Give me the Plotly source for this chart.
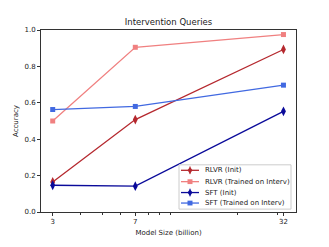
import plotly.graph_objects as go

sizes = [3, 7, 32]
tick_labels = ["3", "7", "32"]
rlvr_init = [0.165, 0.508, 0.893]
rlvr_init_err = [0.012, 0.014, 0.012]
rlvr_trained = [0.500, 0.905, 0.975]
sft_init = [0.147, 0.142, 0.553]
sft_init_err = [0.012, 0.012, 0.012]
sft_trained = [0.563, 0.580, 0.697]

series = [
    ("RLVR (Init)", rlvr_init, rlvr_init_err, "#B5282E", "diamond-tall"),
    ("RLVR (Trained on Interv)", rlvr_trained, None, "#F08080", "square"),
    ("SFT (Init)", sft_init, sft_init_err, "#0A0A9A", "diamond-tall"),
    ("SFT (Trained on Interv)", sft_trained, None, "#4169E1", "square"),
]

W, H = 329, 247
L, R, T, B = 41, 296, 30, 219

def px_x(p):
    return (p - L) / (R - L)

def px_y(p):
    return (B - p) / (B - T)

fig = go.Figure()
for name, vals, err, color, sym in series:
    fig.add_trace(go.Scatter(
        x=sizes, y=vals, name=name, mode="lines+markers",
        line=dict(color=color, width=1.3),
        marker=dict(symbol=sym, size=5 if sym == "square" else 7, color=color),
        error_y=dict(type="data", array=err, color=color, thickness=1, width=0, visible=err is not None),
        showlegend=False,
    ))

# custom compact legend (matplotlib-like)
shapes = [dict(type="rect", xref="paper", yref="paper",
               x0=px_x(179), x1=px_x(291), y0=px_y(216), y1=px_y(170),
               line=dict(color="#cccccc", width=1), fillcolor="rgba(255,255,255,0.85)", layer="above")]
annotations = []
row_y = [175.7, 187.5, 198.8, 209.7]
for (name, vals, err, color, sym), ry in zip(series, row_y):
    shapes.append(dict(type="line", xref="paper", yref="paper",
                       x0=px_x(181), x1=px_x(199), y0=px_y(ry), y1=px_y(ry),
                       line=dict(color=color, width=1.3), layer="above"))
    if sym == "square":
        shapes.append(dict(type="rect", xref="paper", yref="paper",
                           x0=px_x(187.5), x1=px_x(192.5), y0=px_y(ry + 2.5), y1=px_y(ry - 2.5),
                           line=dict(color=color, width=0), fillcolor=color, layer="above"))
    else:
        cx, cy = 190, ry
        path = "M {} {} L {} {} L {} {} L {} {} Z".format(
            px_x(cx), px_y(cy - 3.5), px_x(cx + 2.5), px_y(cy),
            px_x(cx), px_y(cy + 3.5), px_x(cx - 2.5), px_y(cy))
        shapes.append(dict(type="path", xref="paper", yref="paper", path=path,
                           line=dict(color=color, width=0), fillcolor=color, layer="above"))
        shapes.append(dict(type="line", xref="paper", yref="paper",
                           x0=px_x(cx), x1=px_x(cx), y0=px_y(cy - 4), y1=px_y(cy + 4),
                           line=dict(color=color, width=1), layer="above"))
    annotations.append(dict(text=name, xref="paper", yref="paper", x=px_x(202.5), y=px_y(ry),
                            xanchor="left", yanchor="middle", showarrow=False,
                            font=dict(size=7, color="#222")))

fig.update_layout(
    width=W, height=H,
    margin=dict(l=L, r=W - R, t=T, b=H - B),
    paper_bgcolor="white", plot_bgcolor="white",
    font=dict(family="DejaVu Sans", size=7, color="#222"),
    title=dict(text="Intervention Queries", x=0.5, xanchor="center", xref="paper",
               y=1 - 22.5 / H, yanchor="middle", font=dict(size=8.5)),
    showlegend=False,
    shapes=shapes,
    annotations=annotations,
)
fig.update_xaxes(
    type="log", range=[0.425, 1.561],
    tickvals=sizes, ticktext=tick_labels,
    ticks="outside", ticklen=3, tickcolor="#333",
    showline=True, linecolor="#333", linewidth=1, mirror=True,
    showgrid=False, zeroline=False,
    minor=dict(tickvals=[4, 5, 6, 8, 9, 10, 20, 30], ticks="outside", ticklen=2, tickcolor="#333", showgrid=False),
    title=dict(text="Model Size (billion)", font=dict(size=7), standoff=4),
)
fig.update_yaxes(
    range=[0, 1], tickvals=[0, 0.2, 0.4, 0.6, 0.8, 1.0],
    ticktext=["0.0", "0.2", "0.4", "0.6", "0.8", "1.0"],
    ticks="outside", ticklen=3, tickcolor="#333",
    showline=True, linecolor="#333", linewidth=1, mirror=True,
    showgrid=False, zeroline=False,
    title=dict(text="Accuracy", font=dict(size=7), standoff=5),
)

fig.write_html("out.html", config={"displayModeBar": False},
               post_script="document.body.style.margin='0';")
